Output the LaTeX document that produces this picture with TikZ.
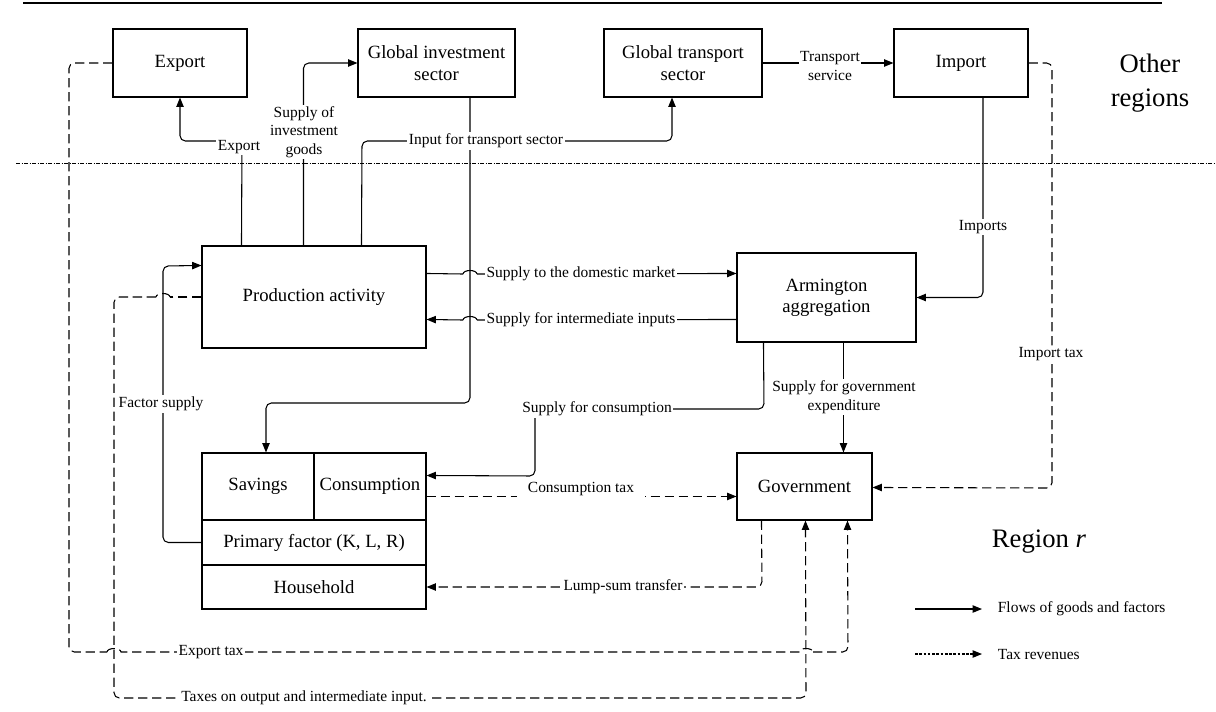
\documentclass[tikz,border=0pt]{standalone}
\usepackage{fontspec}
\setmainfont{LiberationSerif}[Extension=.ttf,UprightFont=*-Regular,
  ItalicFont=*-Italic,BoldFont=*-Bold,BoldItalicFont=*-BoldItalic]
\usetikzlibrary{arrows.meta,calc}
\newdimen\unitpx
\unitpx=0.75pt
\begin{document}
\begin{tikzpicture}[x=0.75pt,y=-0.75pt,
  box/.style={draw,line width=0.8pt,inner sep=0pt,align=center,
    font=\fontsize{14}{16}\selectfont},
  line/.style={draw,line width=0.8pt,rounded corners=4pt},
  flow/.style={line,-{Triangle[length=7pt,width=5.5pt]}},
  dashes/.style={dash pattern=on 7pt off 3.5pt},
  tax/.style={flow,dashes},
  hop/.style={draw,line width=0.8pt},
  lbl/.style={fill=white,inner sep=1.2pt,align=center,
    font=\fontsize{11.6}{14}\selectfont},
  big/.style={align=center,font=\fontsize{20}{25}\selectfont}]
\useasboundingbox (0,0) rectangle (1216,711);

% header rule and the border between the two areas
\draw[line width=1.5pt] (23,3) -- (1162,3);
\draw[line width=0.5pt,dash pattern=on 3pt off 1.2pt on 0.6pt off 1.2pt] (16,163) -- (1216,163);

% boxes
\node[box,minimum width=134\unitpx,minimum height=68\unitpx] (export) at (180,63) {Export};
\node[box,minimum width=157\unitpx,minimum height=68\unitpx] (ginv) at (436.5,63) {Global investment\\sector};
\node[box,minimum width=158\unitpx,minimum height=68\unitpx] (gtrans) at (683,63) {Global transport\\sector};
\node[box,minimum width=134\unitpx,minimum height=68\unitpx] (import) at (961,63) {Import};
\node[box,minimum width=224\unitpx,minimum height=102\unitpx] (prod) at (314,297) {Production activity};
\node[box,minimum width=179\unitpx,minimum height=89\unitpx] (arm) at (826.5,297.5) {Armington\\aggregation};
\node[box,minimum width=135\unitpx,minimum height=67\unitpx] (gov) at (804.5,486.5) {Government};
\node[box,minimum width=112\unitpx,minimum height=67\unitpx] (savings) at (258,486.5) {Savings};
\node[box,minimum width=112\unitpx,minimum height=67\unitpx] (consumption) at (370,486.5) {Consumption};
\node[box,minimum width=224\unitpx,minimum height=45\unitpx] (primary) at (314,542.5) {Primary factor (K, L, R)};
\node[box,minimum width=224\unitpx,minimum height=44\unitpx] (household) at (314,587) {Household};

% region titles
\node[big] (other) at (1150,83) {Other\\regions};
\node[big] (region) at (1039,542) {Region \textit{r}};

% savings routed to investment goods
\draw[flow] ($(ginv.south)+(33.5,0)$) -- (470,403) -- (266,403) -- ($(savings.north)+(8,0)$);

% goods flows
\draw[flow] ($(prod.north west)+(40,0)$) -- (242,141) -- (180,141) -- (export.south);
\node[lbl] (lexport) at (239,147) {Export};

\draw[flow] ($(prod.north west)+(102,0)$) |- (ginv.west);
\node[lbl] (linv) at (304,132) {Supply of\\investment\\goods};

\draw[flow] ($(prod.north west)+(160,0)$) -- (362,141) -- (672,141) -- ($(gtrans.south)+(-11,0)$);
\node[lbl] (ltrans) at (486,141) {Input for transport sector};

\draw[flow] (gtrans.east) -- (import.west);
\node[lbl] (lservice) at (830,66) {Transport\\service};

% line hops over the savings line at x = 470
\coordinate (hd1) at (463,274);
\coordinate (hd2) at (477,274);
\draw[line] ($(prod.north east)+(0,28)$) -- (hd1);
\draw[hop] (hd1) arc[start angle=180,end angle=0,x radius=7\unitpx,y radius=3.5\unitpx];
\draw[flow] (hd2) -- ($(arm.north west)+(0,21)$);
\node[lbl] (ldom) at (581,274) {Supply to the domestic market};

\coordinate (hi1) at (477,320);
\coordinate (hi2) at (463,320);
\draw[line] ($(arm.north west)+(0,67)$) -- (hi1);
\draw[hop] (hi1) arc[start angle=0,end angle=180,x radius=7\unitpx,y radius=3.5\unitpx];
\draw[flow] (hi2) -- ($(prod.north east)+(0,74)$);
\node[lbl] (lint) at (581,320) {Supply for intermediate inputs};

\draw[flow] ($(import.south)+(22,0)$) -- (983,297.5) -- (arm.east);
\node[lbl] (limp) at (983,227) {Imports};

\draw[flow] ($(arm.south west)+(27,0)$) -- (764,409) -- (535,409) -- (535,476) -- ($(consumption.north east)+(0,23)$);
\node[lbl] (lcons) at (597,409) {Supply for consumption};

\draw[flow] ($(arm.south west)+(107,0)$) -- ($(gov.north west)+(107,0)$);
\node[lbl] (lgov) at (844,397) {Supply for government\\expenditure};

\draw[flow] (primary.west) -- (163,542.5) -- (163,266) -- ($(prod.north west)+(0,20)$);
\node[lbl] (lfac) at (161,404) {Factor supply};

% tax revenues
\draw[tax] ($(consumption.north east)+(0,44)$) -- ($(gov.north west)+(0,44)$);
\node[lbl,inner xsep=8pt] (lctax) at (581,489) {Consumption tax};

\draw[tax] ($(gov.south west)+(25,0)$) -- (762,587) -- (household.east);
\node[lbl] (llump) at (623,587) {Lump-sum transfer};

\draw[tax] (import.east) -- (1052,63) -- (1052,488) -- ($(gov.north east)+(0,35)$);
\node[lbl] (limptax) at (1051,354) {Import tax};

% export tax, hopping over the output-tax line twice
\coordinate (he1) at (107,652);
\coordinate (he2) at (121,652);
\coordinate (he3) at (799,652);
\coordinate (he4) at (813,652);
\draw[line,dashes] (export.west) -- (69,63) -- (69,652) -- (he1);
\draw[hop,dashes] (he1) arc[start angle=180,end angle=0,x radius=7\unitpx,y radius=3.5\unitpx]
  -- (he3) arc[start angle=180,end angle=0,x radius=7\unitpx,y radius=3.5\unitpx];
\draw[tax] (he4) -- (848,652) -- ($(gov.south west)+(111,0)$);
\node[lbl] (lexptax) at (211,652) {Export tax};

% output and intermediate input taxes, hopping over the factor supply line
\coordinate (ho1) at (170,297);
\coordinate (ho2) at (156,297);
\draw[line,dashes] (prod.west) -- (ho1);
\draw[hop,dashes] (ho1) arc[start angle=0,end angle=180,x radius=7\unitpx,y radius=3.5\unitpx];
\draw[tax] (ho2) -- (114,297) -- (114,698) -- (806,698) -- ($(gov.south west)+(69,0)$);
\node[lbl] (lout) at (304,698) {Taxes on output and intermediate input.};

% legend
\coordinate (lga) at (915,609);
\coordinate (lgb) at (982,609);
\coordinate (lgc) at (915,654);
\coordinate (lgd) at (982,654);
\draw[flow] (lga) -- (lgb);
\node[lbl,anchor=west] (lgflow) at (996,609) {Flows of goods and factors};
\draw[flow,dash pattern=on 2pt off 1.2pt] (lgc) -- (lgd);
\node[lbl,anchor=west] (lgtax) at (996,654) {Tax revenues};
\end{tikzpicture}
\end{document}
